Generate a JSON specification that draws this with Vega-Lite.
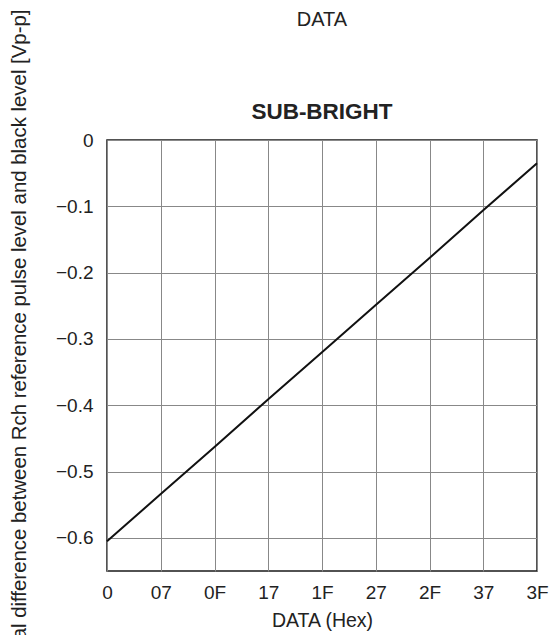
{
  "$schema": "https://vega.github.io/schema/vega-lite/v6.json",
  "width": 430,
  "height": 431,
  "autosize": {"type": "none"},
  "padding": {"left": 107, "top": 140, "right": 15, "bottom": 64},
  "background": "white",
  "config": {
    "font": "Liberation Sans",
    "view": {"stroke": "#1a1a1a", "strokeWidth": 1.5}
  },
  "title": {
    "text": "DATA",
    "subtitle": "SUB-BRIGHT",
    "fontSize": 20,
    "fontWeight": "normal",
    "color": "#222",
    "subtitleFontSize": 22.5,
    "subtitleFontWeight": "bold",
    "subtitleColor": "#222",
    "subtitlePadding": 71,
    "offset": -114,
    "anchor": "middle"
  },
  "data": {
    "values": [
      {"data": "0", "value": -0.605},
      {"data": "07", "value": -0.534},
      {"data": "0F", "value": -0.463},
      {"data": "17", "value": -0.391},
      {"data": "1F", "value": -0.320},
      {"data": "27", "value": -0.249},
      {"data": "2F", "value": -0.178},
      {"data": "37", "value": -0.106},
      {"data": "3F", "value": -0.035}
    ]
  },
  "mark": {"type": "line", "color": "#111", "strokeWidth": 2},
  "encoding": {
    "x": {
      "field": "data",
      "type": "ordinal",
      "sort": null,
      "scale": {"type": "point", "padding": 0},
      "axis": {
        "title": "DATA (Hex)",
        "labelAngle": 0,
        "grid": true,
        "gridColor": "#888",
        "gridWidth": 1,
        "ticks": false,
        "domain": false,
        "labelFontSize": 19,
        "labelPadding": 12,
        "labelColor": "#222",
        "titleFontSize": 19.5,
        "titleFontWeight": "normal",
        "titleColor": "#222",
        "titlePadding": 9
      }
    },
    "y": {
      "field": "value",
      "type": "quantitative",
      "scale": {"domain": [-0.65, 0], "nice": false, "zero": false},
      "axis": {
        "title": "Signal difference between Rch reference pulse level and black level [Vp-p]",
        "values": [0, -0.1, -0.2, -0.3, -0.4, -0.5, -0.6],
        "labelExpr": "datum.value == 0 ? '0' : format(datum.value, '.1f')",
        "grid": true,
        "gridColor": "#888",
        "gridWidth": 1,
        "ticks": false,
        "domain": false,
        "labelFontSize": 19,
        "labelPadding": 14,
        "labelColor": "#222",
        "titleFontSize": 20.4,
        "titleFontWeight": "normal",
        "titleColor": "#222",
        "titleAngle": -90,
        "titleAlign": "right",
        "titleBaseline": "alphabetic",
        "titleX": -82,
        "titleY": -131
      }
    }
  }
}
